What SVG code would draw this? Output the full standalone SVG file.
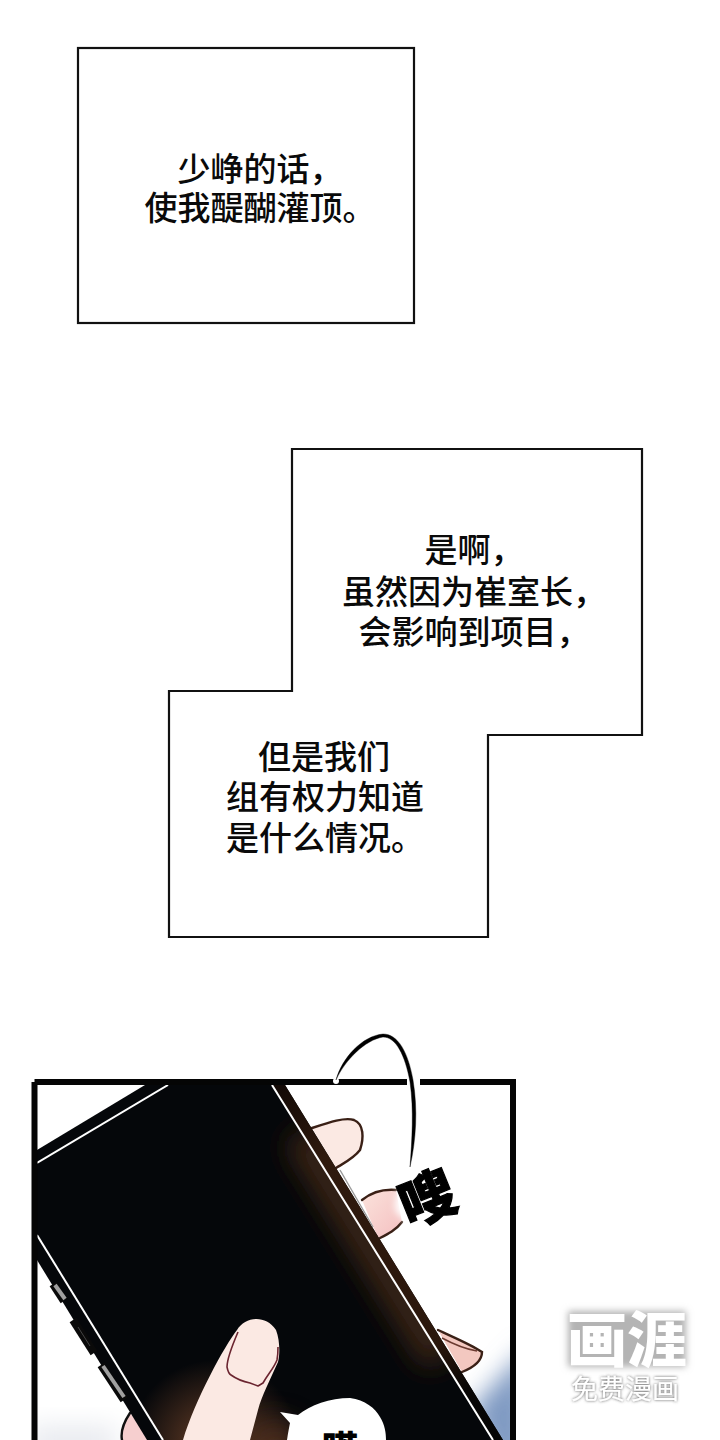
<svg xmlns="http://www.w3.org/2000/svg" width="720" height="1440" viewBox="0 0 720 1440">
<defs>
<style>
.box{fill:#fff;stroke:#111;stroke-width:2.2}
.t{font-family:"Noto Sans CJK SC","Noto Sans",sans-serif;font-size:33px;font-weight:500;fill:#0a0a0a;text-anchor:middle}
.skin{fill:#fbe9e3}
.edge{fill:none;stroke:#3a2016;stroke-width:2.4;stroke-linecap:round}
.nail{fill:none;stroke:#6b2530;stroke-width:1.6;stroke-linejoin:round}
.btnb{stroke:#0a0a0a;stroke-width:8;fill:none}
.btng{stroke:#a0a0a0;stroke-width:4;fill:none}
.wl{stroke:#fff;stroke-width:2;fill:none}
.wm{font-family:"Noto Sans CJK SC",sans-serif;text-anchor:middle;fill:#fff}
</style>
<linearGradient id="band" gradientUnits="userSpaceOnUse" x1="285" y1="1085" x2="503" y2="1440"><stop offset="0" stop-color="#140a06"/><stop offset=".2" stop-color="#2f1a0e"/><stop offset=".72" stop-color="#2b170c"/><stop offset=".85" stop-color="#080605"/><stop offset="1" stop-color="#050505"/></linearGradient>
<linearGradient id="pink" x1="0" y1="0" x2="1" y2="1"><stop offset="0" stop-color="#fbe3dc"/><stop offset="1" stop-color="#f4bfc0"/></linearGradient>
<radialGradient id="fglow" gradientUnits="userSpaceOnUse" cx="215" cy="1445" r="85"><stop offset="0" stop-color="#6a4028"/><stop offset="1" stop-color="#6a4028" stop-opacity="0"/></radialGradient>
<filter id="blur" x="-30%" y="-30%" width="160%" height="160%"><feGaussianBlur stdDeviation="3.500"/></filter>
<filter id="blur2" x="-50%" y="-50%" width="200%" height="200%"><feGaussianBlur stdDeviation="12"/></filter>
<filter id="blur3" x="-50%" y="-50%" width="200%" height="200%"><feGaussianBlur stdDeviation="14"/></filter>
<filter id="shadow" x="-20%" y="-30%" width="140%" height="160%"><feDropShadow dx="0" dy="0" stdDeviation="1.5" flood-color="#555"/></filter>
<clipPath id="panel"><rect x="37" y="1085" width="473" height="355"/></clipPath>
<clipPath id="screen"><path d="M168 1085H272L493 1440H163L37 1235V1163Z"/></clipPath>
</defs>
<g id="box1"><rect class="box" x="78" y="48" width="336" height="275"/>
<text class="t" x="260" y="181">少峥的话，</text><text class="t" x="260" y="220">使我醍醐灌顶。</text></g>
<g id="box2"><path class="box" d="M292 449H642V735H488V937H169V691H292Z"/>
<text class="t" x="474" y="562">是啊，</text><text class="t" x="474" y="604">虽然因为崔室长，</text><text class="t" x="474" y="644">会影响到项目，</text>
<text class="t" x="324" y="769">但是我们</text><text class="t" x="325" y="809">组有权力知道</text><text class="t" x="325" y="850">是什么情况。</text></g>
<g id="panel3">
<rect x="37" y="1085" width="473" height="355" fill="#fff"/>
<g clip-path="url(#panel)">
<path d="M470 1410L530 1345V1470H495Z" fill="#7f9ac2" filter="url(#blur2)"/>
<path d="M30 1425H115V1460H30Z" fill="#e9ebf0" filter="url(#blur2)"/>
<path class="skin" d="M312 1128C330 1122 345 1117 354 1120C364 1124 364 1138 360 1150C354 1158 346 1162 336 1168Z"/>
<path class="edge" d="M312 1128C330 1122 345 1117 354 1120C364 1124 364 1138 360 1150C354 1158 346 1162 336 1168"/>
<path d="M362 1200C372 1192 384 1189 396 1190L402 1222C396 1230 384 1236 378 1238Z" fill="url(#pink)"/>
<path class="edge" d="M362 1200C372 1192 384 1189 396 1190"/>
<path class="edge" d="M402 1222C396 1230 388 1234 380 1238"/>
<path d="M438 1330C455 1338 470 1344 482 1352C482 1362 472 1368 462 1372Z" fill="#f3c8c0"/>
<path class="edge" d="M438 1330C455 1338 470 1344 482 1352C482 1362 472 1368 462 1372"/>
<path d="M442 1338C455 1345 465 1349 477 1351" fill="none" stroke="#6b3a30" stroke-width="1.5"/>
<path d="M130 1413C122 1425 121 1435 122 1440H152Z" fill="#f6cfcf"/>
<path class="edge" d="M130 1413C122 1425 121 1435 122 1440" style="stroke:#111"/>
<path d="M145 1085H285L503 1440H147L37 1260V1150Z" fill="#05070a"/>
<path d="M272 1085H285L503 1440H493Z" fill="url(#band)"/>
<g clip-path="url(#screen)">
<path d="M300 1135L440 1360" stroke="#3d2616" stroke-width="34" fill="none" filter="url(#blur3)"/>
<circle cx="215" cy="1445" r="85" fill="url(#fglow)"/>
<circle cx="275" cy="1450" r="30" fill="#5a3522" opacity=".7" filter="url(#blur3)"/>
</g>
<path class="wl" d="M168 1085L37 1163"/>
<path class="wl" d="M272 1085L493 1440"/>
<path class="wl" d="M37 1235L163 1440"/>
<path d="M340 1170L373 1227" stroke="#999" stroke-width="1.4" fill="none"/>
<path class="btnb" d="M53 1284L64 1301"/><path class="btng" d="M55 1285L65 1299"/>
<path class="btnb" d="M73 1320L94 1353"/><path d="M78 1327L90 1346" stroke="#444" stroke-width="1"/>
<path class="btnb" d="M101 1365L124 1400"/><path class="btng" d="M103 1366L124 1397"/>
<path class="skin" d="M183 1440C195 1400 225 1345 237 1330C245 1317 265 1314 276 1330C280 1340 280 1355 278 1362C270 1380 262 1395 258 1410L250 1440Z"/>
<path class="nail" d="M238 1332C232 1346 227 1358 227 1367C228 1372 229 1374 231 1375C238 1380 245 1382 250 1383L258 1386L263 1383C268 1374 274 1368 277 1360C278 1355 278 1351 278 1347"/>
<path d="M280 1412L298 1415C310 1405 330 1398 350 1398C365 1400 375 1408 380 1417C385 1425 386 1433 386 1440H287C288 1433 289 1428 290 1423Z" fill="#fff"/>
<text x="340" y="1462" font-family="'Noto Sans CJK SC',sans-serif" font-weight="900" font-size="36" text-anchor="middle" fill="#000">嗒</text>
</g>
<path d="M34.500 1082H513V1440M34.500 1082V1440" fill="none" stroke="#050505" stroke-width="6"/>
<rect x="407" y="1076" width="13" height="12" fill="#fff"/>
<circle cx="336" cy="1081" r="3" fill="#fff"/>
<path id="curl" d="M336 1080C342 1058 362 1036 383 1034C398 1034 408 1052 413 1080C418 1110 416 1140 410 1167C412 1140 414 1110 410 1082C405 1055 396 1037 383 1037C365 1040 345 1060 336 1080Z" fill="#000" stroke="#000" stroke-width=".4"/>
<path d="M396 1212C392 1198 400 1180 420 1172L450 1168L462 1215L420 1236Z" fill="#fff" filter="url(#blur)"/>
<text x="428" y="1219" transform="rotate(-22 428 1200)" font-family="'Noto Sans CJK SC',sans-serif" font-weight="900" font-size="56" text-anchor="middle" fill="#000" stroke="#000" stroke-width="1.2">嗖</text>
</g>
<g id="watermark">
<rect x="568" y="1311" width="118" height="56" fill="#b4b4b4" filter="url(#blur)"/>
<text class="wm" x="627" y="1362" font-weight="900" font-size="60">画涯</text>
<text class="wm" x="625" y="1399" font-size="27" filter="url(#shadow)">免费漫画</text>
</g>
</svg>
